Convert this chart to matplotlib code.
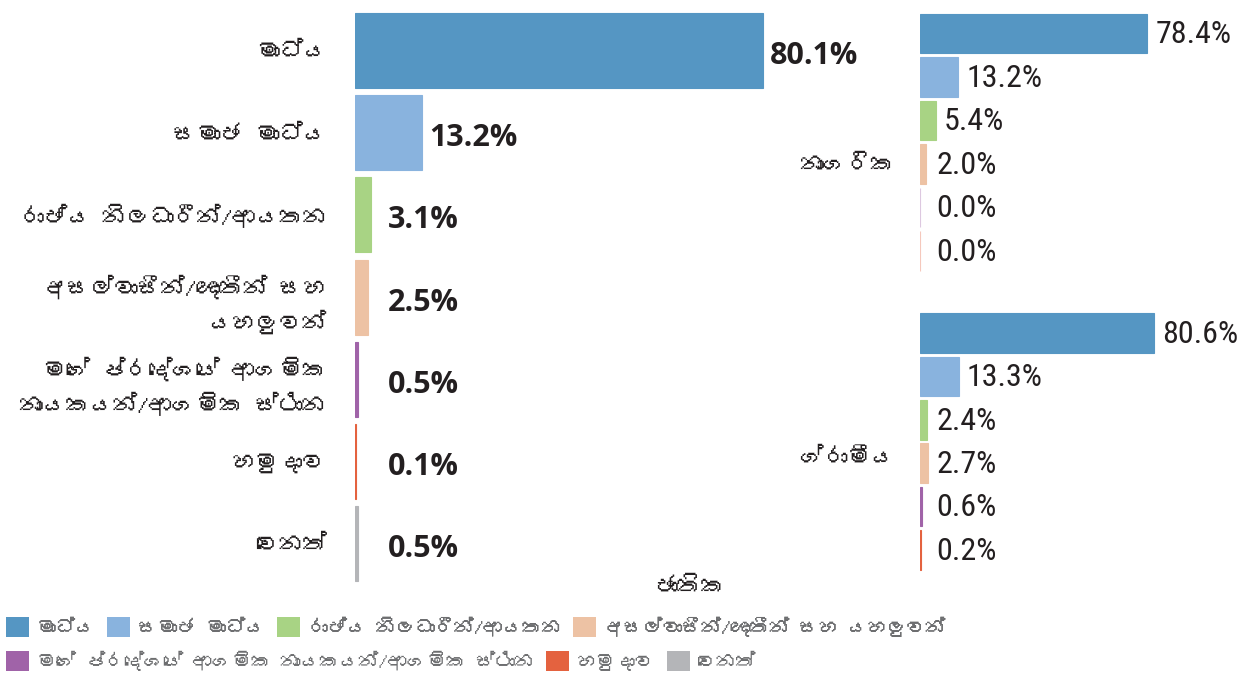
import matplotlib
matplotlib.use("Agg")
import matplotlib.pyplot as plt
from matplotlib import font_manager
from matplotlib.ft2font import FT2Font
from matplotlib.patches import Patch

# data
categories = ["මාධ්‍ය", "සමාජ මාධ්‍ය", "රාජ්‍ය නිලධාරීන්/ආයතන",
              "අසල්වාසීන්/ඥාතීන් සහ\nයහලුවන්",
              "මගේ ප්‍රදේශයේ ආගමික\nනායකයන්/ආගමික ස්ථාන",
              "හමුදාව", "වෙනත්"]
legend_names = ["මාධ්‍ය", "සමාජ මාධ්‍ය", "රාජ්‍ය නිලධාරීන්/ආයතන",
                "අසල්වාසීන්/ඥාතීන් සහ යහලුවන්",
                "මගේ ප්‍රදේශයේ ආගමික නායකයන්/ආගමික ස්ථාන",
                "හමුදාව", "වෙනත්"]
national = [80.1, 13.2, 3.1, 2.5, 0.5, 0.1, 0.5]
urban = [78.4, 13.2, 5.4, 2.0, 0.0, 0.0]
rural = [80.6, 13.3, 2.4, 2.7, 0.6, 0.2]
national_title = "ජාතික"
urban_title = "නාගරික"
rural_title = "ග්‍රාමීය"

colors = ["#5596c3", "#89b3de", "#a8d384", "#edc2a4", "#a063a8", "#e4623f", "#b4b5b8"]


def find_sinhala_font():
    for f in font_manager.fontManager.ttflist:
        try:
            if 0x0DB8 in FT2Font(f.fname).get_charmap():
                return f.name
        except Exception:
            pass
    return None


def txt(s):
    # matplotlib has no shaping, the zero width joiner would show as a box
    return s.replace("\u200d", "")


sin = find_sinhala_font()
sin_family = [sin, "DejaVu Sans"] if sin else ["DejaVu Sans"]
names = {f.name for f in font_manager.fontManager.ttflist}
num_bold = ["Open Sans", "DejaVu Sans"]
num_narrow = ["Roboto Condensed", "Roboto"] if "Roboto Condensed" in names else ["Roboto", "DejaVu Sans"]

W, H = 1258, 673
fig = plt.figure(figsize=(W / 100, H / 100), dpi=100)


def axes_px(x0, y0, x1, y1):
    return fig.add_axes([x0 / W, 1 - y1 / H, (x1 - x0) / W, (y1 - y0) / H])


def clean(ax):
    for s in ax.spines.values():
        s.set_visible(False)
    ax.set_xticks([])
    ax.tick_params(left=False)


# national panel
ax = axes_px(355, 9.4, 864, 584.8)
ys = range(len(national))
ax.barh(ys, national, height=0.91, color=colors, edgecolor=colors, linewidth=0.8)
ax.set_xlim(0, 100)
ax.set_ylim(len(national) - 0.5, -0.5)
clean(ax)
ax.set_yticks(list(ys))
ax.set_yticklabels([txt(c) for c in categories], family=sin_family, fontweight="bold",
                   fontsize=17, color="#231f20", linespacing=1.5)
ax.tick_params(axis="y", pad=17)
for y, v in zip(ys, national):
    ax.annotate(f"{v:.1f}%", (max(v, 5), y), xytext=(5, -4), textcoords="offset points",
                ha="left", va="center", fontsize=22, fontweight="bold",
                family=num_bold, color="#231f20")


def small_panel(y0, y1, vals, title, title_y):
    a = axes_px(920, y0, 1210, y1)
    yy = range(len(vals))
    al = [0.35 if v == 0 else 1 for v in vals]
    for y, v, c, alpha in zip(yy, vals, colors, al):
        a.barh(y, v, height=0.91, color=c, edgecolor=c, linewidth=0.8, alpha=alpha)
    a.set_xlim(0, 100)
    a.set_ylim(len(vals) - 0.5, -0.5)
    clean(a)
    a.set_yticks([])
    for y, v in zip(yy, vals):
        a.annotate(f"{v:.1f}%", (max(v, 2.8), y), xytext=(6, -1), textcoords="offset points",
                   ha="left", va="center", fontsize=23, family=num_narrow, color="#231f20")
    fig.text(895 / W, 1 - title_y / H, txt(title), ha="right", va="center", fontsize=17,
             fontweight="bold", family=sin_family, color="#231f20")


small_panel(11.75, 272.75, urban, urban_title, 165)
small_panel(311.3, 571.7, rural, rural_title, 458)

fig.text(690 / W, 1 - 587 / H, txt(national_title), ha="center", va="center", fontsize=17,
         fontweight="bold", family=sin_family, color="#231f20")

# legend, two rows
handles = [Patch(facecolor=c, edgecolor="none") for c in colors]
leg_font = {"family": sin_family, "size": 14}
legs = []
for hs, ls, yp in [(handles[:4], legend_names[:4], 627), (handles[4:], legend_names[4:], 661)]:
    leg = fig.legend(hs, [txt(s) for s in ls], ncol=len(hs), loc="center left",
                     bbox_to_anchor=(0, 1 - yp / H), frameon=False, prop=leg_font,
                     handlelength=1.2, handleheight=1.2, handletextpad=0.4,
                     columnspacing=0.6, borderaxespad=0, borderpad=0.3)
    for t in leg.get_texts():
        t.set_color("#6d6e70")
    legs.append(leg)
fig.add_artist(legs[0])

fig.savefig("out.png", dpi=100)
